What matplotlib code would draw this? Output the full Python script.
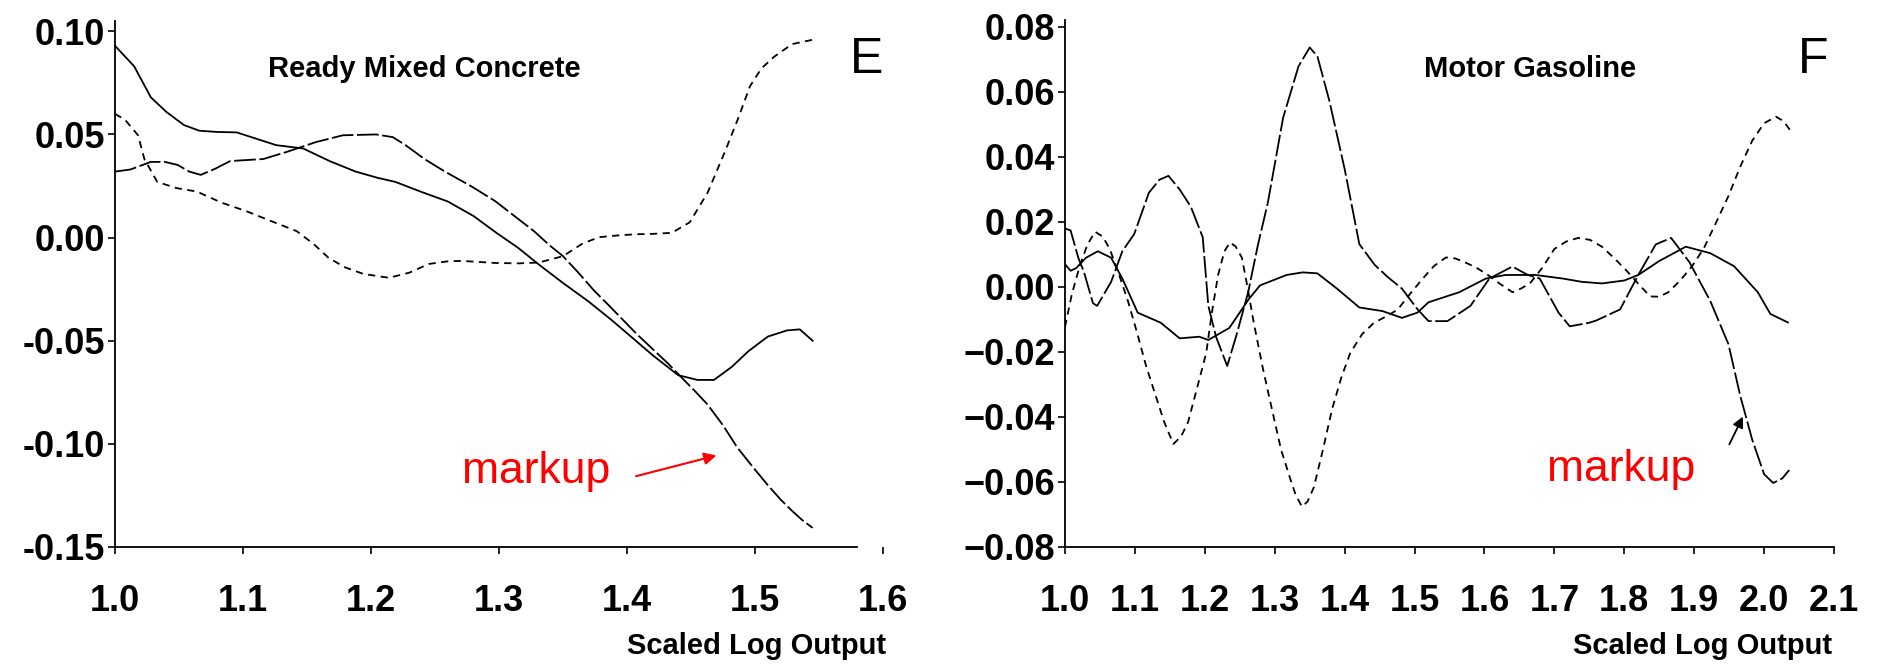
import matplotlib
matplotlib.use("Agg")
import matplotlib.pyplot as plt

plt.rcParams['font.family'] = ['Liberation Sans', 'DejaVu Sans']

# ---- panel E : Ready Mixed Concrete ----
e_solid_x = [1.000, 1.015, 1.028, 1.040, 1.054, 1.066, 1.080, 1.095, 1.110, 1.126,
             1.147, 1.168, 1.188, 1.205, 1.219, 1.240, 1.260, 1.280, 1.298, 1.315,
             1.331, 1.350, 1.370, 1.388, 1.405, 1.420, 1.440, 1.455, 1.468, 1.482,
             1.495, 1.510, 1.525, 1.535, 1.545]
e_solid_y = [0.093, 0.083, 0.068, 0.061, 0.0545, 0.0518, 0.0512, 0.051, 0.048, 0.0448,
             0.0432, 0.037, 0.032, 0.029, 0.027, 0.022, 0.0175, 0.0105, 0.0023, -0.005,
             -0.013, -0.022, -0.031, -0.040, -0.049, -0.057, -0.0667, -0.069, -0.069, -0.0626,
             -0.055, -0.048, -0.045, -0.0445, -0.050]

e_long_x = [1.000, 1.012, 1.028, 1.039, 1.049, 1.058, 1.067, 1.078, 1.090, 1.116,
            1.134, 1.157, 1.178, 1.204, 1.217, 1.227, 1.242, 1.258, 1.278, 1.297,
            1.313, 1.327, 1.340, 1.350, 1.362, 1.374, 1.386, 1.397, 1.408, 1.420,
            1.432, 1.444, 1.454, 1.463, 1.475, 1.486, 1.498, 1.510, 1.520, 1.529,
            1.537, 1.545]
e_long_y = [0.032, 0.033, 0.0367, 0.0367, 0.0352, 0.032, 0.0304, 0.0333, 0.0371, 0.0381,
            0.0415, 0.0463, 0.0496, 0.050, 0.0487, 0.0448, 0.038, 0.0319, 0.025, 0.0177,
            0.010, 0.0033, -0.004, -0.009, -0.017, -0.0255, -0.033, -0.040, -0.047, -0.054,
            -0.061, -0.0687, -0.075, -0.081, -0.091, -0.1016, -0.111, -0.120, -0.127, -0.1325,
            -0.137, -0.1407]

e_short_x = [1.000, 1.008, 1.018, 1.023, 1.033, 1.048, 1.064, 1.083, 1.103, 1.122,
             1.142, 1.155, 1.167, 1.180, 1.194, 1.214, 1.230, 1.245, 1.260, 1.271,
             1.297, 1.315, 1.331, 1.350, 1.365, 1.378, 1.392, 1.406, 1.420, 1.435,
             1.449, 1.463, 1.477, 1.487, 1.496, 1.505, 1.515, 1.529, 1.545]
e_short_y = [0.060, 0.057, 0.0496, 0.038, 0.027, 0.024, 0.0223, 0.017, 0.0127, 0.008,
             0.0031, -0.003, -0.0099, -0.0145, -0.0176, -0.0195, -0.017, -0.0128, -0.0115, -0.0113,
             -0.0123, -0.0125, -0.0121, -0.009, -0.003, 0.0002, 0.001, 0.0016, 0.0018, 0.0023,
             0.0074, 0.0218, 0.0424, 0.058, 0.0733, 0.082, 0.0877, 0.0938, 0.0959]

e_xticks = [1.0, 1.1, 1.2, 1.3, 1.4, 1.5, 1.6]
e_yticks = [0.10, 0.05, 0.00, -0.05, -0.10, -0.15]
e_ylabels = ['0.10', '0.05', '0.00', '-0.05', '-0.10', '-0.15']

# ---- panel F : Motor Gasoline ----
f_solid_x = [1.000, 1.008, 1.016, 1.030, 1.047, 1.066, 1.082, 1.104, 1.137, 1.164,
             1.192, 1.205, 1.235, 1.263, 1.279, 1.317, 1.340, 1.361, 1.389, 1.421,
             1.454, 1.482, 1.504, 1.520, 1.564, 1.602, 1.630, 1.673, 1.712, 1.739,
             1.768, 1.800, 1.820, 1.850, 1.888, 1.923, 1.957, 1.991, 2.009, 2.034]
f_solid_y = [0.007, 0.005, 0.0058, 0.009, 0.011, 0.009, 0.0026, -0.0079, -0.011, -0.0158,
             -0.0153, -0.0163, -0.0126, -0.0037, 0.0005, 0.0037, 0.0045, 0.0042, -0.0005, -0.0063,
             -0.0074, -0.0095, -0.0079, -0.0047, -0.0016, 0.0026, 0.0037, 0.0037, 0.0026, 0.0016,
             0.0011, 0.002, 0.0037, 0.008, 0.0124, 0.0104, 0.0064, -0.0016, -0.0083, -0.0109]

f_long_x = [1.000, 1.008, 1.019, 1.027, 1.040, 1.046, 1.066, 1.082, 1.099, 1.120,
            1.135, 1.148, 1.164, 1.180, 1.197, 1.205, 1.216, 1.232, 1.245, 1.262,
            1.276, 1.290, 1.312, 1.334, 1.350, 1.361, 1.378, 1.400, 1.421, 1.443,
            1.462, 1.482, 1.504, 1.520, 1.547, 1.580, 1.607, 1.640, 1.662, 1.679,
            1.706, 1.722, 1.750, 1.760, 1.794, 1.820, 1.845, 1.867, 1.893, 1.923,
            1.949, 1.966, 1.983, 2.000, 2.013, 2.026, 2.036]
f_long_y = [0.018, 0.0174, 0.009, 0.0047, -0.005, -0.0058, 0.0016, 0.011, 0.0163, 0.029,
            0.033, 0.0342, 0.030, 0.0247, 0.0153, -0.0058, -0.0153, -0.0243, -0.015, -0.0016,
            0.013, 0.0258, 0.0521, 0.0679, 0.0737, 0.071, 0.0574, 0.0363, 0.0132, 0.0068,
            0.003, -0.0005, -0.0068, -0.0105, -0.0105, -0.0058, 0.0026, 0.0063, 0.0037, 0.0026,
            -0.0079, -0.0121, -0.011, -0.0103, -0.0069, 0.0037, 0.0131, 0.0151, 0.0077, -0.0043,
            -0.0176, -0.0336, -0.047, -0.0576, -0.0603, -0.0589, -0.0563]

f_short_x = [1.000, 1.010, 1.021, 1.032, 1.043, 1.054, 1.064, 1.077, 1.090, 1.103,
             1.116, 1.129, 1.142, 1.155, 1.166, 1.176, 1.189, 1.202, 1.210, 1.219,
             1.228, 1.236, 1.244, 1.253, 1.261, 1.270, 1.283, 1.296, 1.309, 1.322,
             1.330, 1.339, 1.347, 1.356, 1.369, 1.382, 1.395, 1.408, 1.425, 1.442,
             1.460, 1.476, 1.494, 1.511, 1.528, 1.545, 1.558, 1.571, 1.588, 1.605,
             1.622, 1.640, 1.652, 1.665, 1.683, 1.700, 1.717, 1.734, 1.751, 1.768,
             1.785, 1.803, 1.820, 1.837, 1.850, 1.863, 1.880, 1.897, 1.914, 1.931,
             1.949, 1.966, 1.983, 2.000, 2.017, 2.028, 2.039]
f_short_y = [-0.0123, -0.002, 0.0064, 0.013, 0.017, 0.0155, 0.0117, 0.004, -0.0043, -0.014,
             -0.0243, -0.033, -0.0416, -0.0483, -0.046, -0.0416, -0.031, -0.0203, -0.008, 0.0037,
             0.011, 0.0137, 0.0125, 0.009, 0.000, -0.011, -0.025, -0.0376, -0.050, -0.0589,
             -0.064, -0.0676, -0.066, -0.0616, -0.050, -0.0376, -0.028, -0.0203, -0.0145, -0.011,
             -0.009, -0.0069, -0.002, 0.0024, 0.0065, 0.0091, 0.0088, 0.0077, 0.006, 0.0037,
             0.001, -0.0016, -0.0005, 0.0011, 0.006, 0.0117, 0.014, 0.0151, 0.0145, 0.0124,
             0.009, 0.0051, 0.001, -0.0029, -0.003, -0.0016, 0.002, 0.0064, 0.012, 0.0197,
             0.028, 0.0371, 0.045, 0.0504, 0.0524, 0.051, 0.0477]

f_xticks = [1.0, 1.1, 1.2, 1.3, 1.4, 1.5, 1.6, 1.7, 1.8, 1.9, 2.0, 2.1]
f_yticks = [0.08, 0.06, 0.04, 0.02, 0.00, -0.02, -0.04, -0.06, -0.08]
f_ylabels = ['0.08', '0.06', '0.04', '0.02', '0.00',
             '\u22120.02', '\u22120.04', '\u22120.06', '\u22120.08']

LONG = (0, (12, 2))
SHORT = (0, (4, 3))
LW = 1.3


def style_axes(ax, xticks, yticks, ylabels):
    for s in ['top', 'right']:
        ax.spines[s].set_visible(False)
    for s in ['left', 'bottom']:
        ax.spines[s].set_linewidth(1.3)
    ax.set_xticks(xticks)
    ax.set_xticklabels(['%.1f' % t for t in xticks], fontweight='bold')
    ax.set_yticks(yticks)
    ax.set_yticklabels(ylabels, fontweight='bold')
    ax.tick_params(axis='both', direction='out', length=5, width=1.2, labelsize=26)
    ax.tick_params(axis='x', pad=22)
    ax.tick_params(axis='y', pad=2)


fig = plt.figure(figsize=(18.77, 6.66), dpi=100)

# left panel
ax1 = fig.add_axes([0.06127, 0.17868, 0.40916, 0.78979])
ax1.plot(e_solid_x, e_solid_y, color='black', lw=LW)
ax1.plot(e_long_x, e_long_y, color='black', lw=LW, ls=LONG)
ax1.plot(e_short_x, e_short_y, color='black', lw=LW, ls=SHORT)
ax1.set_xlim(1.0, 1.6)
ax1.set_ylim(-0.15, 0.105)
style_axes(ax1, e_xticks, e_yticks, e_ylabels)
ax1.spines['bottom'].set_bounds(1.0, 1.58)
ax1.text(1.242, 0.0816, 'Ready Mixed Concrete', fontsize=21, fontweight='bold',
         ha='center', va='center')
ax1.text(1.587, 0.086, 'E', fontsize=36, ha='center', va='center')
ax1.set_xlabel('Scaled Log Output', fontsize=21, fontweight='bold', loc='right')
ax1.xaxis.set_label_coords(1.004, -0.188)
ax1.xaxis.label.set_va('center')
ax1.annotate('', xy=(1.472, -0.1053), xytext=(1.405, -0.116),
             arrowprops=dict(arrowstyle='-|>', color='red', lw=1.5, mutation_scale=18))
ax1.text(1.271, -0.1132, 'markup', fontsize=32, color='red', ha='left', va='center')

# right panel
ax2 = fig.add_axes([0.56740, 0.17868, 0.40970, 0.79054])
ax2.plot(f_solid_x, f_solid_y, color='black', lw=LW)
ax2.plot(f_long_x, f_long_y, color='black', lw=LW, ls=LONG)
ax2.plot(f_short_x, f_short_y, color='black', lw=LW, ls=SHORT)
ax2.set_xlim(1.0, 2.1)
ax2.set_ylim(-0.08, 0.082)
style_axes(ax2, f_xticks, f_yticks, f_ylabels)
ax2.text(1.665, 0.0671, 'Motor Gasoline', fontsize=21, fontweight='bold',
         ha='center', va='center')
ax2.text(2.07, 0.0698, 'F', fontsize=36, ha='center', va='center')
ax2.set_xlabel('Scaled Log Output', fontsize=21, fontweight='bold', loc='right')
ax2.xaxis.set_label_coords(0.997, -0.188)
ax2.xaxis.label.set_va('center')
ax2.annotate('', xy=(1.9714, -0.0391), xytext=(1.9485, -0.0492),
             arrowprops=dict(arrowstyle='-|>', color='black', lw=1.3, mutation_scale=16))
ax2.text(1.6896, -0.0563, 'markup', fontsize=32, color='red', ha='left', va='center')

fig.savefig('out.png', dpi=100)
